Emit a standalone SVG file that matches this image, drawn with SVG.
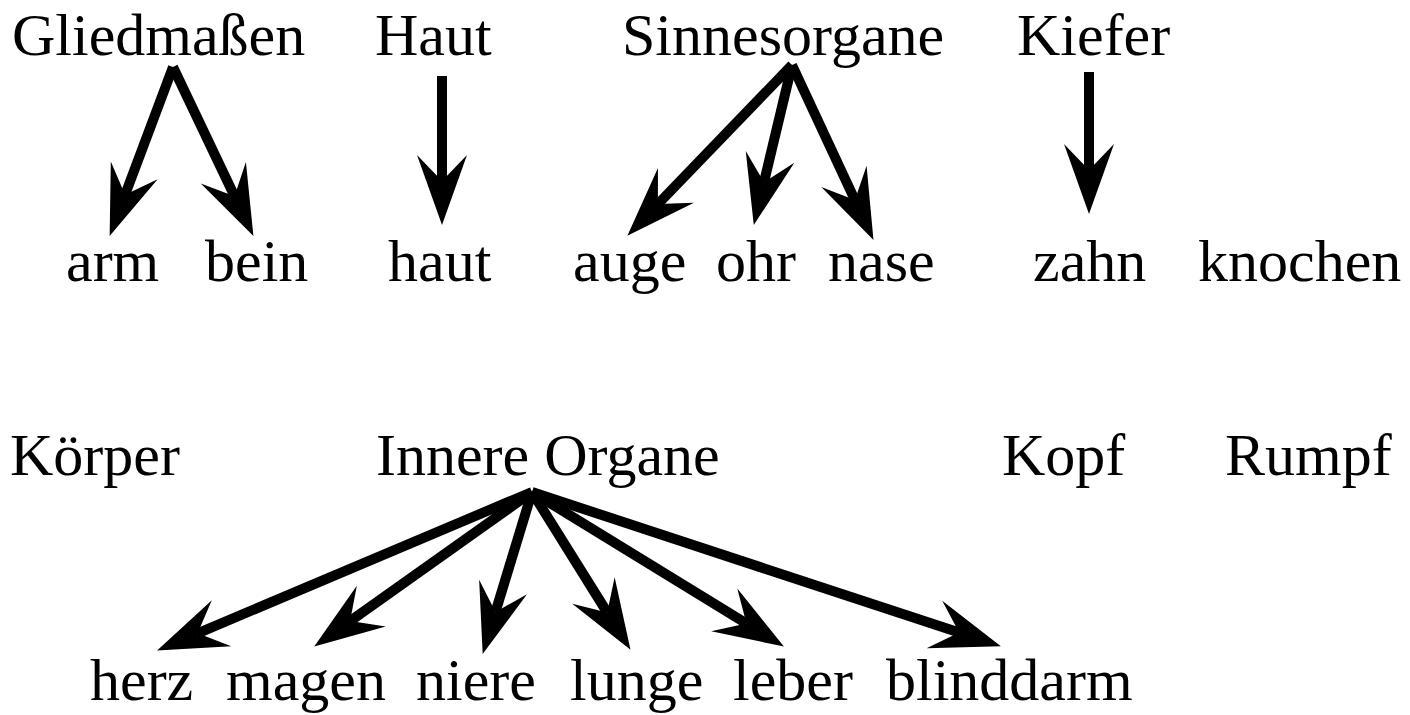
<svg xmlns="http://www.w3.org/2000/svg" width="1410" height="715" viewBox="0 0 1410 715">
  <style>
    .label { font-family: "Liberation Serif", "Times New Roman", serif; font-size: 60px; fill: #000; }
    .edge { stroke: #000; stroke-width: 10; fill: none; stroke-linecap: butt; marker-end: url(#barb); }
  </style>
  <defs>
    <!-- barbed arrowhead; origin sits at the notch where the shaft ends -->
    <marker id="barb" markerUnits="userSpaceOnUse" viewBox="-35 -35 90 70" markerWidth="90" markerHeight="70" refX="0" refY="0" orient="auto" overflow="visible">
      <path d="M44,0 L-26,-25 L0,0 L-26,25 Z" fill="#000"/>
    </marker>
  </defs>

  <rect width="1410" height="715" fill="#fff"/>

  <!-- connectors -->
  <g id="edges">
    <line class="edge" x1="173" y1="67" x2="125.1" y2="194.7"/>
    <line class="edge" x1="173" y1="67" x2="234.5" y2="196.2"/>
    <line class="edge" x1="442" y1="76" x2="442" y2="181"/>
    <line class="edge" x1="792" y1="65" x2="657.9" y2="204.1"/>
    <line class="edge" x1="792" y1="65" x2="764.0" y2="182.2"/>
    <line class="edge" x1="792" y1="65" x2="854.9" y2="200.0"/>
    <line class="edge" x1="1089" y1="72" x2="1089" y2="170"/>
    <line class="edge" x1="532" y1="492" x2="197.6" y2="633.3"/>
    <line class="edge" x1="532" y1="492" x2="350.1" y2="621.1"/>
    <line class="edge" x1="532" y1="492" x2="495.5" y2="611.9"/>
    <line class="edge" x1="532" y1="492" x2="607.2" y2="612.5"/>
    <line class="edge" x1="532" y1="492" x2="746.4" y2="623.5"/>
    <line class="edge" x1="532" y1="492" x2="959.1" y2="632.6"/>
  </g>

  <!-- categories -->
  <g id="gliedmassen"><text class="label" x="12" y="55">Gliedmaßen</text></g>
  <g id="haut-cat"><text class="label" x="375" y="55">Haut</text></g>
  <g id="sinnesorgane"><text class="label" x="622" y="55">Sinnesorgane</text></g>
  <g id="kiefer"><text class="label" x="1017" y="55">Kiefer</text></g>

  <g id="arm"><text class="label" x="66" y="281">arm</text></g>
  <g id="bein"><text class="label" x="205" y="281">bein</text></g>
  <g id="haut"><text class="label" x="388" y="281">haut</text></g>
  <g id="auge"><text class="label" x="573" y="281">auge</text></g>
  <g id="ohr"><text class="label" x="716" y="281">ohr</text></g>
  <g id="nase"><text class="label" x="828" y="281">nase</text></g>
  <g id="zahn"><text class="label" x="1033" y="281">zahn</text></g>
  <g id="knochen"><text class="label" x="1198" y="281">knochen</text></g>

  <g id="koerper"><text class="label" x="10" y="475">Körper</text></g>
  <g id="innere-organe"><text class="label" x="376" y="475">Innere Organe</text></g>
  <g id="kopf"><text class="label" x="1002" y="475">Kopf</text></g>
  <g id="rumpf"><text class="label" x="1225" y="475">Rumpf</text></g>

  <g id="herz"><text class="label" x="90" y="700">herz</text></g>
  <g id="magen"><text class="label" x="226" y="700">magen</text></g>
  <g id="niere"><text class="label" x="416" y="700">niere</text></g>
  <g id="lunge"><text class="label" x="570" y="700">lunge</text></g>
  <g id="leber"><text class="label" x="733" y="700">leber</text></g>
  <g id="blinddarm"><text class="label" x="886" y="700">blinddarm</text></g>
</svg>
